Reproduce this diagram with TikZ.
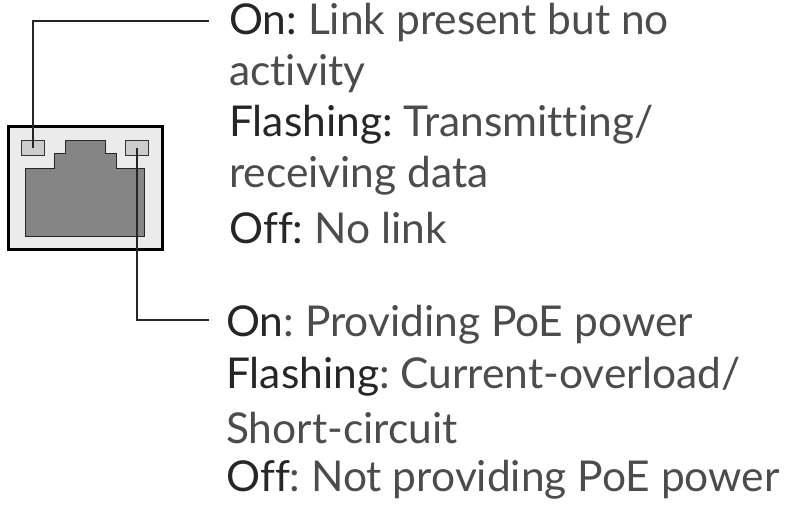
\documentclass[tikz,border=0pt]{standalone}
\usepackage{fontspec}
\setmainfont{Lato}[Ligatures={NoCommon}]
\newcommand{\dsc}[1]{\textcolor{black!70}{#1}}
\begin{document}
\begin{tikzpicture}[x=1pt,y=-1pt,
  lbl/.style={anchor=west,inner sep=0pt,font=\fontsize{42.5}{51}\selectfont,text=black!85},
  lead/.style={draw=black!85,line width=1.3pt},
  led/.style={draw=black!80,fill=black!20,line width=1pt}]
\useasboundingbox (0,0) rectangle (789,517);
\draw[line width=3pt,fill=black!8] (8,126) rectangle (162,249);
\draw[fill=black!48,draw=black!85,line width=1pt] (25,168)--(54,168)--(54,153)--(65,153)--(65,140)--(105,140)--(105,153)--(116,153)--(116,168)--(144,168)--(144,236)--(25,236)--cycle;
\node[led,minimum width=23pt,minimum height=15pt,inner sep=0pt] (ledL) at (33,148) {};
\node[led,minimum width=23pt,minimum height=15pt,inner sep=0pt] (ledR) at (137,148) {};
\coordinate (t1) at (209,21);
\coordinate (t2) at (209,320);
\draw[lead] (ledL.center) |- (t1);
\draw[lead] (ledR.center) |- (t2);
\node[lbl] (a1) at (229,22) {On:~\dsc{Link present but no}};
\node[lbl] (a2) at (229,74) {\dsc{activity}};
\node[lbl] (a3) at (229,125) {Flashing:~\dsc{Transmitting/}};
\node[lbl] (a4) at (229,176) {\dsc{receiving data}};
\node[lbl] (a5) at (229,228) {Off:~\dsc{No link}};
\node[lbl] (b1) at (226,325) {On\dsc{:~Providing PoE power}};
\node[lbl] (b2) at (226,377) {Flashing\dsc{:~Current-overload/}};
\node[lbl] (b3) at (226,428) {\dsc{Short-circuit}};
\node[lbl] (b4) at (226,480) {Off\dsc{:~Not providing PoE power}};
\end{tikzpicture}
\end{document}
